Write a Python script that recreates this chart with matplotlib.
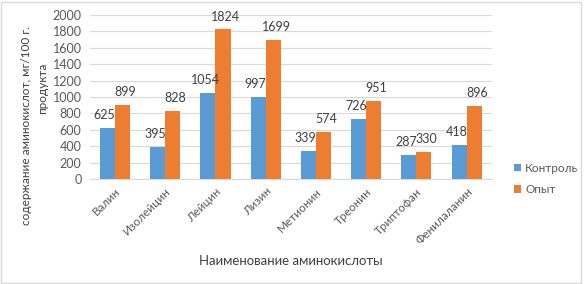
import numpy as np
import matplotlib
matplotlib.use("Agg")
import matplotlib.pyplot as plt

plt.rcParams['font.family'] = ['Lato', 'DejaVu Sans']

categories = ['Валин', 'Изолейцин', 'Лейцин', 'Лизин', 'Метионин', 'Треонин', 'Триптофан', 'Фенилаланин']
control = [625, 395, 1054, 997, 339, 726, 287, 418]
experiment = [899, 828, 1824, 1699, 574, 951, 330, 896]
series_names = ['Контроль', 'Опыт']
yticks = list(range(0, 2001, 200))

fig = plt.figure(figsize=(5.84, 2.84), dpi=100)
ax = fig.add_axes([0.154, 0.37, 0.688, 0.577])

x = np.arange(len(categories))
w = 0.3
b1 = ax.bar(x - w / 2, control, w, color='#5B9BD5', label=series_names[0], zorder=3)
b2 = ax.bar(x + w / 2, experiment, w, color='#ED7D31', label=series_names[1], zorder=3)

for bars, dx in ((b1, -2), (b2, 2)):
    for rect in bars:
        h = rect.get_height()
        ax.annotate(str(int(h)), (rect.get_x() + rect.get_width() / 2, h),
                    xytext=(dx, 5), textcoords='offset points',
                    ha='center', va='bottom', fontsize=9, color='#404040')

ax.set_xlim(-0.5, len(categories) - 0.5)
ax.set_ylim(0, 2000)
ax.set_yticks(yticks)
ax.set_xticks(x)
ax.set_xticklabels(categories, rotation=45, ha='right', rotation_mode='anchor', fontsize=8.5, color='#595959')
ax.tick_params(axis='y', labelsize=9, colors='#595959', length=0, pad=6)
ax.tick_params(axis='x', length=0, pad=5)
ax.grid(axis='y', color='#D9D9D9', linewidth=0.8, zorder=0)
for s in ['top', 'right', 'left']:
    ax.spines[s].set_visible(False)
ax.spines['bottom'].set_color('#D9D9D9')

fig.text(27 / 584, 1 - 126 / 284, 'содержание аминокислот, мг/100 г.', rotation=90,
         ha='center', va='center', fontsize=8.5, color='#404040')
fig.text(43 / 584, 1 - 88 / 284, 'продукта', rotation=90,
         ha='center', va='center', fontsize=8.5, color='#404040')
ax.set_xlabel('Наименование аминокислоты', fontsize=9.5, color='#404040', labelpad=6)

ax.legend(loc='center left', bbox_to_anchor=(1.03, 0.0), frameon=False, fontsize=8.5,
          handlelength=0.6, handleheight=0.6, handletextpad=0.3, labelspacing=0.9,
          labelcolor='#595959')

fig.patches.append(plt.Rectangle((0.002, 0.004), 0.993, 0.99, transform=fig.transFigure,
                                 fill=False, edgecolor='#D9D9D9', linewidth=1))

fig.savefig('out.png', dpi=100)
